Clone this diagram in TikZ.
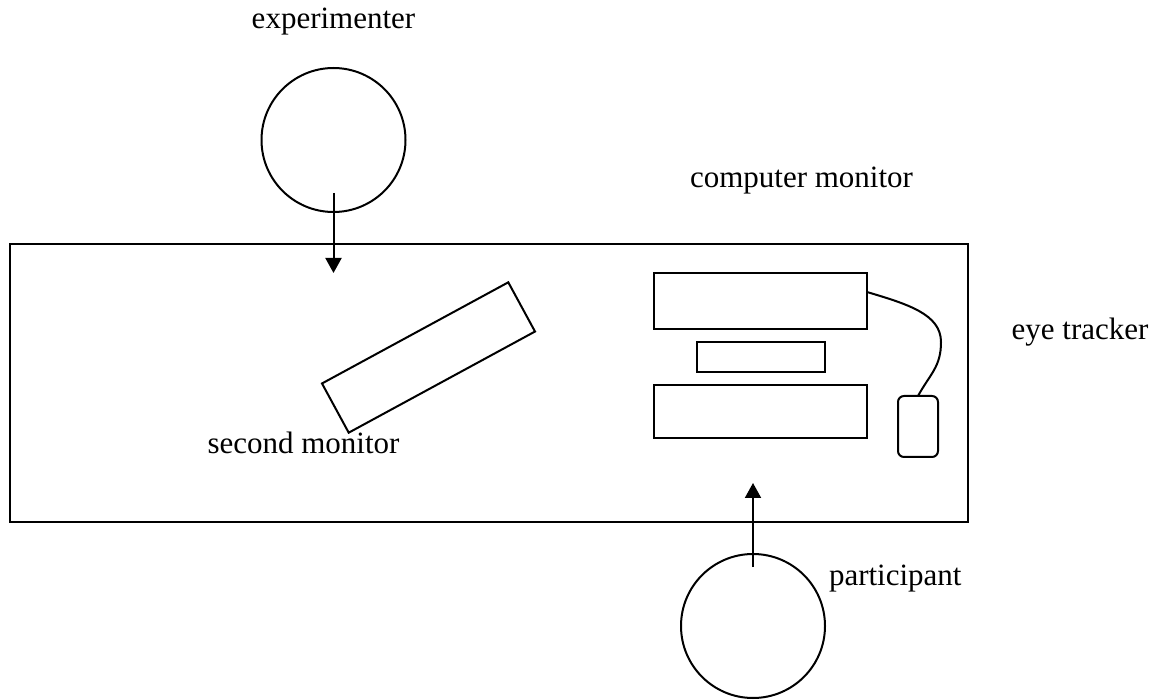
\documentclass[tikz,border=0pt]{standalone}
\usepackage{fontspec}
\setmainfont{Liberation Serif}
\usetikzlibrary{positioning}
\usetikzlibrary{arrows.meta}
\tikzset{>={Triangle[length=15pt,width=16pt]}}
\tikzset{lbl/.style={inner sep=0pt,anchor=base,font=\fontsize{31}{36}\selectfont}}
\tikzset{person/.style={draw,circle,minimum size=144pt,inner sep=0pt}}
\tikzset{box/.style={draw,rectangle,inner sep=0pt,outer sep=0pt}}

\begin{document}
\begin{tikzpicture}[x=1pt,y=-1pt,line width=2pt]
\useasboundingbox (0,0) rectangle (1168,700);

\node[box,minimum width=958pt,minimum height=277pt] (table) at (488.5,383) {};

\node[person] (exp) at (333.5,140) {};
\node[person] (part) at (753,626) {};

\node[box,minimum width=213pt,minimum height=56pt] (screen) at (760.5,301) {};
\node[box,minimum width=128pt,minimum height=30pt] (bar) [below=13pt of screen] {};
\node[box,minimum width=213pt,minimum height=53pt] (keys) [below=13pt of bar] {};
\node[box,rounded corners=6pt,minimum width=40pt,minimum height=61pt] (mouse) at (918,426.5) {};
\node[box,rotate=28.5,minimum width=212pt,minimum height=56pt] (second) at (428.5,357.5) {};

\node[lbl] (explbl) at (333.5,29) {experimenter};
\node[lbl] (cmlbl) at (801.5,188) {computer monitor};
\node[lbl] (etlbl) at (1080,340) {eye tracker};
\node[lbl] (smlbl) at (303.5,454) {second monitor};
\node[lbl,anchor=base west] (plbl) at (828,585) {participant};

\coordinate (expgaze) at (333.5,273);
\coordinate (partgaze) at (753,483);
\coordinate (bend) at (941,342);

\draw[->] (exp.center) ++(0,53) -- (expgaze);
\draw[->] (part.center) ++(0,-59) -- (partgaze);

\draw ([yshift=9pt]screen.east) .. controls +(40,12) and +(0,-28) .. (bend)
 .. controls +(0,25) and +(12,-22) .. (mouse.north);
\end{tikzpicture}
\end{document}
